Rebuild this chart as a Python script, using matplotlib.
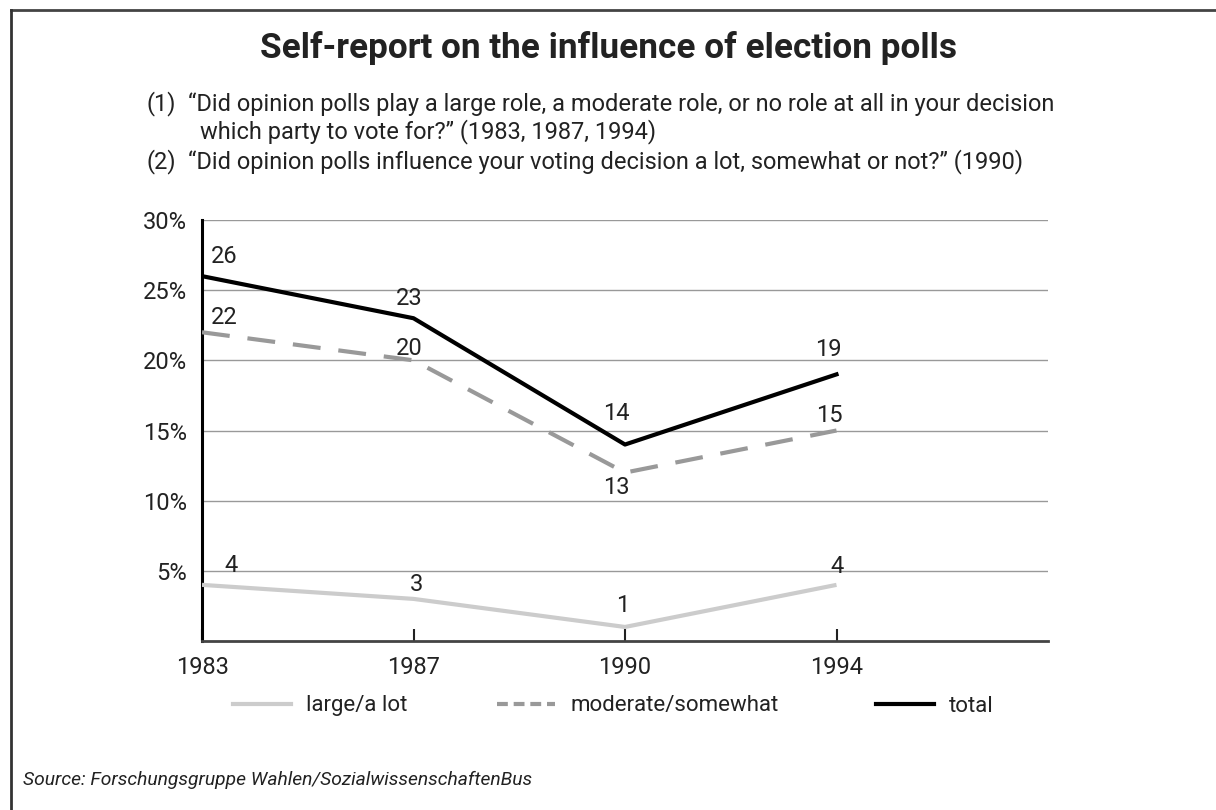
import matplotlib.pyplot as plt
from matplotlib.lines import Line2D

# data
years = ['1983', '1987', '1990', '1994']
large = [4, 3, 1, 4]
moderate = [22, 20, 12, 15]
total = [26, 23, 14, 19]

# printed labels (moderate 1990 is labelled 13 in the original)
large_labels = ['4', '3', '1', '4']
moderate_labels = ['22', '20', '13', '15']
total_labels = ['26', '23', '14', '19']

yticks = [5, 10, 15, 20, 25, 30]

plt.rcParams['font.family'] = ['Roboto', 'DejaVu Sans']

fig = plt.figure(figsize=(12.16, 8.10), dpi=100)
ax = fig.add_axes([202 / 1216, 1 - 641 / 810, 846 / 1216, 421 / 810])

x = list(range(len(years)))

c_large = '#cccccc'
c_mod = '#999999'
c_total = '#000000'
c_text = '#222222'

ax.plot(x, large, color=c_large, lw=3, solid_capstyle='butt', zorder=3)
ax.plot(x, moderate, color=c_mod, lw=3, dashes=(6.7, 4.3), zorder=3)
ax.plot(x, total, color=c_total, lw=3, zorder=4)

# label offsets in pixels (dx, dy), per point
off_large = [(29, 19), (3, 14), (-2, 21), (1, 18)]
off_mod = [(22, 15), (-4, 12), (-9, -15), (-7, 15)]
off_total = [(22, 20), (-4, 20), (-9, 31), (-8, 25)]

for vals, labs, offs in [(large, large_labels, off_large),
                         (moderate, moderate_labels, off_mod),
                         (total, total_labels, off_total)]:
    for i, v in enumerate(vals):
        ax.annotate(labs[i], (x[i], v), xytext=offs[i], textcoords='offset pixels',
                    ha='center', va='center', fontsize=17, color=c_text)

ax.set_xlim(0, 4)
ax.set_ylim(0, 30)
ax.set_xticks(x)
ax.set_xticklabels(years, fontsize=17, color=c_text)
ax.set_yticks(yticks)
ax.set_yticklabels([f'{t}%' for t in yticks], fontsize=17, color=c_text)
ax.tick_params(axis='y', length=0, pad=11)
ax.tick_params(axis='x', direction='in', length=9, width=1.5, color=c_text, pad=11)
ax.grid(axis='y', color='#999999', lw=1)
ax.set_axisbelow(True)

for s in ['top', 'right']:
    ax.spines[s].set_visible(False)
ax.spines['left'].set_linewidth(2.2)
ax.spines['left'].set_color('#000000')
ax.spines['bottom'].set_linewidth(2)
ax.spines['bottom'].set_color('#444444')

# title and question notes
fig.text(609 / 1216, 1 - 48 / 810, 'Self-report on the influence of election polls',
         ha='center', va='center', fontsize=25.3, fontweight='bold', color=c_text)
note_fs = 17
fig.text(146 / 1216, 1 - 104 / 810, '(1)', va='center', fontsize=note_fs, color=c_text)
fig.text(188 / 1216, 1 - 104 / 810,
         '\u201cDid opinion polls play a large role, a moderate role, or no role at all in your decision',
         va='center', fontsize=note_fs, color=c_text)
fig.text(200 / 1216, 1 - 132 / 810, 'which party to vote for?\u201d (1983, 1987, 1994)',
         va='center', fontsize=note_fs, color=c_text)
fig.text(146 / 1216, 1 - 162 / 810, '(2)', va='center', fontsize=note_fs, color=c_text)
fig.text(188 / 1216, 1 - 162 / 810,
         '\u201cDid opinion polls influence your voting decision a lot, somewhat or not?\u201d (1990)',
         va='center', fontsize=note_fs, color=c_text)

# legend, one entry at a time so each sits where the original has it
entries = [
    (Line2D([], [], color=c_large, lw=3), 'large/a lot', 233),
    (Line2D([], [], color=c_mod, lw=3, dashes=(2.6, 1.4)), 'moderate/somewhat', 497),
    (Line2D([], [], color=c_total, lw=3), 'total', 876),
]
for h, lab, xpx in entries:
    fig.legend([h], [lab], loc='center left', bbox_to_anchor=(xpx / 1216, 1 - 706 / 810),
               frameon=False, fontsize=16, handlelength=2.6, handletextpad=0.7,
               borderpad=0, borderaxespad=0, labelcolor=c_text)

fig.text(23 / 1216, 1 - 780 / 810, 'Source: Forschungsgruppe Wahlen/SozialwissenschaftenBus',
         va='center', fontsize=13.9, style='italic', color=c_text)

# frame lines at top and left
fig.add_artist(Line2D([11 / 1216, 1], [1 - 10 / 810, 1 - 10 / 810], color='#444444', lw=2,
                      transform=fig.transFigure))
fig.add_artist(Line2D([11 / 1216, 11 / 1216], [0, 1 - 10 / 810], color='#333333', lw=2,
                      transform=fig.transFigure))

fig.savefig('out.png', dpi=100)
